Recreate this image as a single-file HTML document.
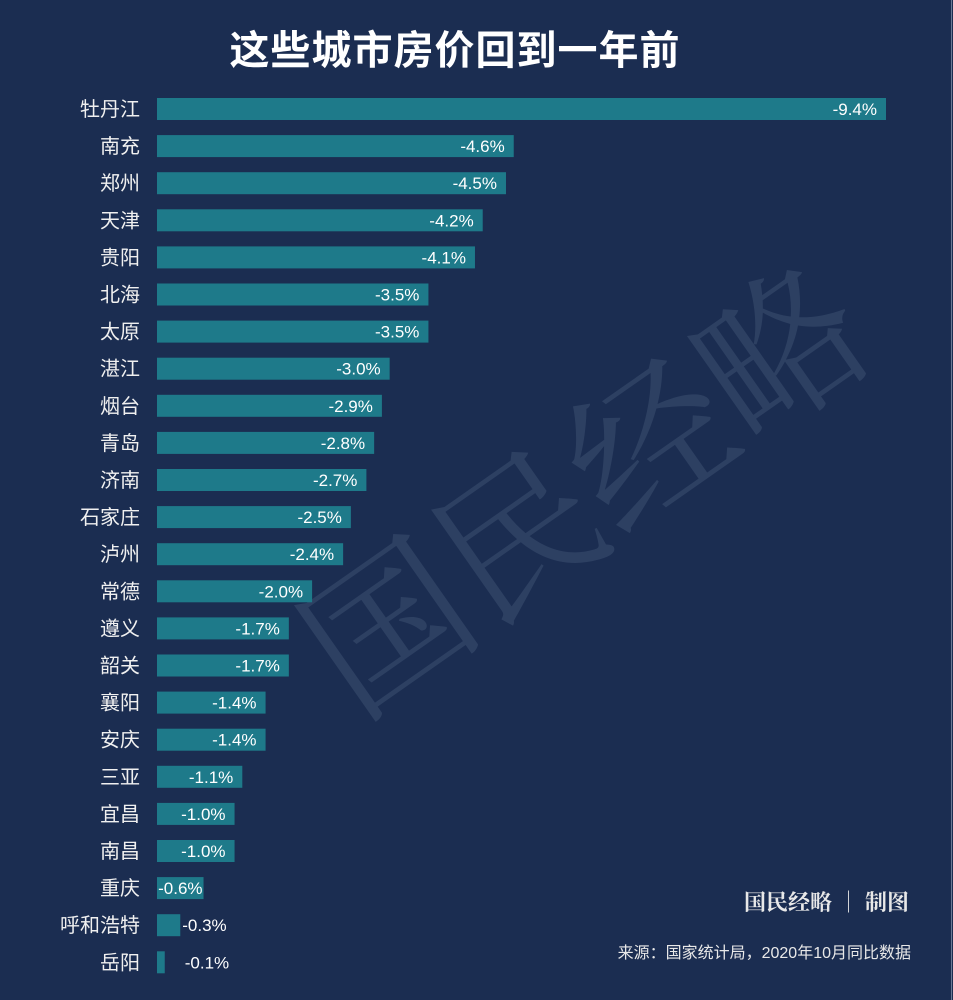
<!DOCTYPE html>
<html><head><meta charset="utf-8"><style>
body{margin:0;width:953px;height:1000px;background:#1b2d51;overflow:hidden;font-family:"Liberation Sans","Noto Sans CJK SC",sans-serif;position:relative}
#title{position:absolute;top:18px;left:0;width:910px;text-align:center;color:#fff;font-size:40px;font-weight:bold;letter-spacing:1px}
#border{position:absolute;right:1px;top:0;width:1px;height:1000px;background:#6a7a95}
#wm{position:absolute;left:250px;top:570px;font-size:160px;color:rgba(120,140,170,0.2);transform:rotate(-35deg);transform-origin:left top;font-family:"Noto Serif CJK SC",serif;white-space:nowrap}
#sign{position:absolute;right:44px;top:886px;color:#e8e8e8;font-size:22px;font-weight:bold;font-family:"Noto Serif CJK SC",serif}
#src{position:absolute;right:42px;top:939px;color:#e8e8e8;font-size:16px}
</style></head><body>
<div id="title">这些城市房价回到一年前</div>
<div id="border"></div>
<div id="wm">国民经略</div>
<svg id="chart" width="953" height="1000" style="position:absolute;left:0;top:0"></svg>
<div id="sign">国民经略 │ 制图</div>
<div id="src">来源：国家统计局，2020年10月同比数据</div>
<script>
const cities=["牡丹江","南充","郑州","天津","贵阳","北海","太原","湛江","烟台","青岛","济南","石家庄","泸州","常德","遵义","韶关","襄阳","安庆","三亚","宜昌","南昌","重庆","呼和浩特","岳阳"];
const values=[-9.4,-4.6,-4.5,-4.2,-4.1,-3.5,-3.5,-3.0,-2.9,-2.8,-2.7,-2.5,-2.4,-2.0,-1.7,-1.7,-1.4,-1.4,-1.1,-1.0,-1.0,-0.6,-0.3,-0.1];
const NS="http://www.w3.org/2000/svg";
const svg=document.getElementById('chart');
const x0=157, k=729/9.4;
const xs=v=>x0+Math.abs(v)*k;
const yc=i=>109+i*37.1;
cities.forEach((c,i)=>{
  const v=values[i], w=xs(v)-x0, y=yc(i);
  const r=document.createElementNS(NS,'rect');
  r.setAttribute('x',x0);r.setAttribute('y',y-11);r.setAttribute('width',w);r.setAttribute('height',22);r.setAttribute('fill','#1e7a8a');
  
  
  svg.appendChild(r);
  const t=document.createElementNS(NS,'text');
  t.setAttribute('x',140);t.setAttribute('y',y+7);t.setAttribute('text-anchor','end');t.setAttribute('fill','#f0f0f0');t.setAttribute('font-size','20');
  t.setAttribute('font-family','"Liberation Sans","Noto Sans CJK SC",sans-serif');
  t.textContent=c;
  
  
  svg.appendChild(t);
  const l=document.createElementNS(NS,'text');
  const lbl=v.toFixed(1)+'%';
  if(w>60){l.setAttribute('x',x0+w-9);l.setAttribute('text-anchor','end');}
  else if(w>40){l.setAttribute('x',x0+w-1);l.setAttribute('text-anchor','end');}
  else{l.setAttribute('x',x0+w+(w<15?20:2));}
  l.setAttribute('y',y+6);l.setAttribute('fill','#fff');l.setAttribute('font-size','17');
  l.setAttribute('font-family','"Liberation Sans",sans-serif');
  l.textContent=lbl;
  
  
  svg.appendChild(l);
});
</script>
</body></html>
